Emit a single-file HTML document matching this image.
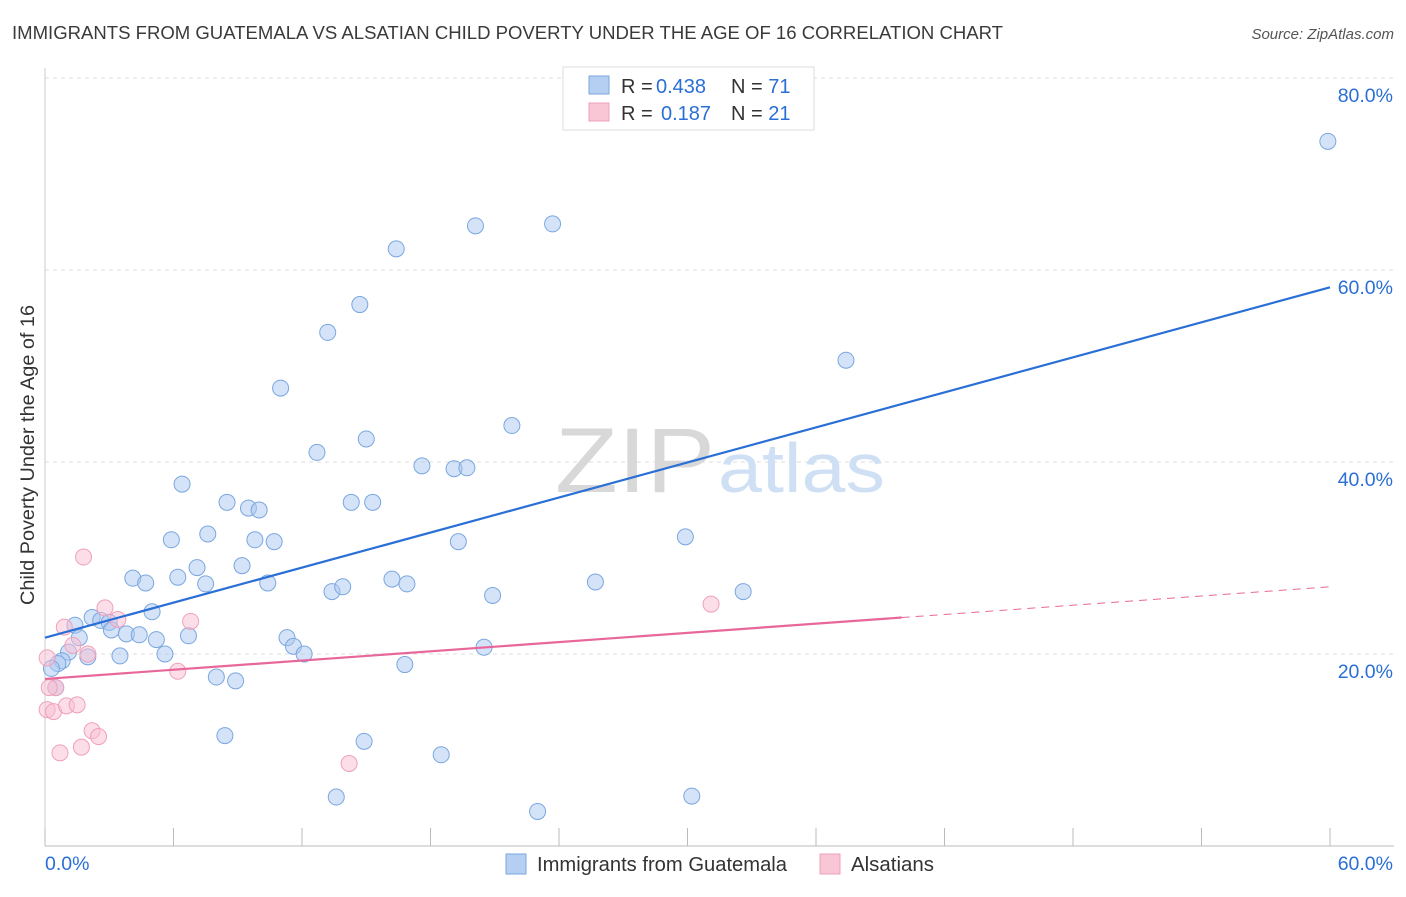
<!DOCTYPE html>
<html><head><meta charset="utf-8"><style>
body{margin:0;background:#fff;font-family:"Liberation Sans",sans-serif}
svg text{font-family:"Liberation Sans",sans-serif}
</style></head><body>
<svg id="chart" width="1406" height="892" xmlns="http://www.w3.org/2000/svg">
<text x="12" y="39" font-size="18" fill="#3a3a3a" textLength="991" lengthAdjust="spacingAndGlyphs">IMMIGRANTS FROM GUATEMALA VS ALSATIAN CHILD POVERTY UNDER THE AGE OF 16 CORRELATION CHART</text>
<text x="1394" y="39" font-size="15" fill="#555" text-anchor="end" font-style="italic">Source: ZipAtlas.com</text>
<g id="grid"></g>
<text x="555" y="492" font-size="92" fill="#d8d8d8" font-family="Liberation Serif" textLength="160" lengthAdjust="spacingAndGlyphs">ZIP</text>
<text x="718" y="492" font-size="70" fill="#cfe0f5" textLength="167" lengthAdjust="spacingAndGlyphs">atlas</text>
<text x="34" y="455" font-size="19.5" fill="#333" text-anchor="middle" textLength="300" lengthAdjust="spacingAndGlyphs" transform="rotate(-90 34 455)">Child Poverty Under the Age of 16</text>
<g id="marks"></g>
<g>
<rect x="563" y="67" width="251" height="63" fill="#fff" stroke="#ddd"/>
<rect x="589" y="76" width="20" height="18" fill="#b5cff3" stroke="#7aa7e0"/>
<rect x="589" y="103" width="20" height="18" fill="#f9c6d6" stroke="#f0a0bb"/>
<text x="621" y="93" font-size="20" fill="#333">R = <tspan fill="#2a6fd6" x="656">0.438</tspan><tspan x="731">N = </tspan><tspan fill="#2a6fd6">71</tspan></text>
<text x="621" y="120" font-size="20" fill="#333">R = <tspan fill="#2a6fd6" x="661">0.187</tspan><tspan x="731">N = </tspan><tspan fill="#2a6fd6">21</tspan></text>
</g>
<g>
<rect x="506" y="854" width="20" height="20" fill="#b5cff3" stroke="#7aa7e0"/>
<text x="537" y="871" font-size="20" fill="#333" textLength="250" lengthAdjust="spacingAndGlyphs">Immigrants from Guatemala</text>
<rect x="820" y="854" width="20" height="20" fill="#f9c6d6" stroke="#f0a0bb"/>
<text x="851" y="871" font-size="20" fill="#333" textLength="83" lengthAdjust="spacingAndGlyphs">Alsatians</text>
</g>
</svg>
<script>
const blueX=[59.9,20.1,23.7,16.4,14.7,13.2,37.4,11.0,21.8,15.0,12.7,17.6,19.1,19.7,6.4,8.5,14.3,15.3,9.5,10.0,7.6,5.9,9.8,10.7,19.3,29.9,7.1,9.2,4.1,4.7,6.2,7.5,10.4,16.2,16.9,25.7,13.4,13.9,20.9,32.6,5.0,2.2,2.6,3.0,1.4,1.6,3.1,3.8,4.4,5.2,6.7,11.3,11.6,12.1,20.5,1.1,5.6,3.5,2.0,0.8,0.6,0.3,16.8,8.0,8.9,0.5,8.4,14.9,18.5,13.6,30.2,23.0];
const blueY=[73.4,64.6,64.8,62.2,56.4,53.5,50.6,47.7,43.8,42.4,41.0,39.6,39.3,39.4,37.7,35.8,35.8,35.8,35.2,35.0,32.5,31.9,31.9,31.7,31.7,32.2,29.0,29.2,27.9,27.4,28.0,27.3,27.4,27.8,27.3,27.5,26.5,27.0,26.1,26.5,24.4,23.8,23.5,23.3,23.0,21.7,22.5,22.1,22.0,21.5,21.9,21.7,20.8,20.0,20.7,20.2,20.0,19.8,19.7,19.3,19.0,18.5,18.9,17.6,17.2,16.5,11.5,10.9,9.5,5.1,5.2,3.6];
const pinkX=[1.8,2.8,3.4,6.8,31.1,0.9,1.3,2.0,0.1,6.2,0.5,0.1,0.4,1.0,1.5,2.2,2.5,1.7,0.7,14.2,0.2];
const pinkY=[30.1,24.8,23.6,23.4,25.2,22.8,20.9,20.0,19.6,18.2,16.5,14.2,14.0,14.6,14.7,12.0,11.4,10.3,9.7,8.6,16.5];
const blueTrend=[21.7,58.2];
const pinkTrend=[17.4,27.0];
const yTicks=[20,40,60,80];
const xTickVals=[0,6,12,18,24,30,36,42,48,54,60];
const NS="http://www.w3.org/2000/svg";
const sx=v=>45+v*(1285/60), sy=v=>846-v*9.6;
const grid=document.getElementById('grid'), marks=document.getElementById('marks');
function mk(tag,attrs,parent){const e=document.createElementNS(NS,tag);for(const k in attrs)e.setAttribute(k,attrs[k]);parent.appendChild(e);return e;}
yTicks.forEach(t=>{
 const l=mk('line',{x1:45,x2:1394,y1:sy(t),y2:sy(t),stroke:'#ddd','stroke-dasharray':'4,4'},grid);
 
 
 const tx=mk('text',{x:1393,y:sy(t)+24,'font-size':19.5,fill:'#2a6fd6','text-anchor':'end'},grid);
 tx.textContent=t.toFixed(1)+'%';
 
 
});
const ax=mk('line',{x1:45,x2:1394,y1:846,y2:846,stroke:'#bbb'},grid);


const ay=mk('line',{x1:45,x2:45,y1:68,y2:846,stroke:'#ccc'},grid);


xTickVals.forEach(t=>{
 const l=mk('line',{x1:sx(t),x2:sx(t),y1:828,y2:846,stroke:'#bbb'},grid);
 
 
});
[[0,'start',45],[60,'end',1393]].forEach(([v,a,x])=>{
 const tx=mk('text',{x:x,y:870,'font-size':19.5,fill:'#2a6fd6','text-anchor':a},grid);
 tx.textContent=v.toFixed(1)+'%';
 
 
});
blueX.forEach((x,i)=>{
 const c=mk('circle',{cx:sx(x),cy:sy(blueY[i]),r:8,fill:'rgba(170,200,240,0.5)',stroke:'#7aa7e0','stroke-width':1},marks);
 
 
});
pinkX.forEach((x,i)=>{
 const c=mk('circle',{cx:sx(x),cy:sy(pinkY[i]),r:8,fill:'rgba(250,190,210,0.5)',stroke:'#f0a0bb','stroke-width':1},marks);
 
 
});
const bl=mk('line',{x1:sx(0),y1:sy(blueTrend[0]),x2:sx(60),y2:sy(blueTrend[1]),stroke:'#2a6fd6','stroke-width':2.2},marks);


const pm=pinkTrend[0]+(pinkTrend[1]-pinkTrend[0])*(40/60);
const pl=mk('line',{x1:sx(0),y1:sy(pinkTrend[0]),x2:sx(40),y2:sy(pm),stroke:'#e8679a','stroke-width':2.2},marks);


const pd=mk('line',{x1:sx(40),y1:sy(pm),x2:sx(60),y2:sy(pinkTrend[1]),stroke:'#e8679a','stroke-width':1,'stroke-dasharray':'8,6'},marks);


</script>
</body></html>
